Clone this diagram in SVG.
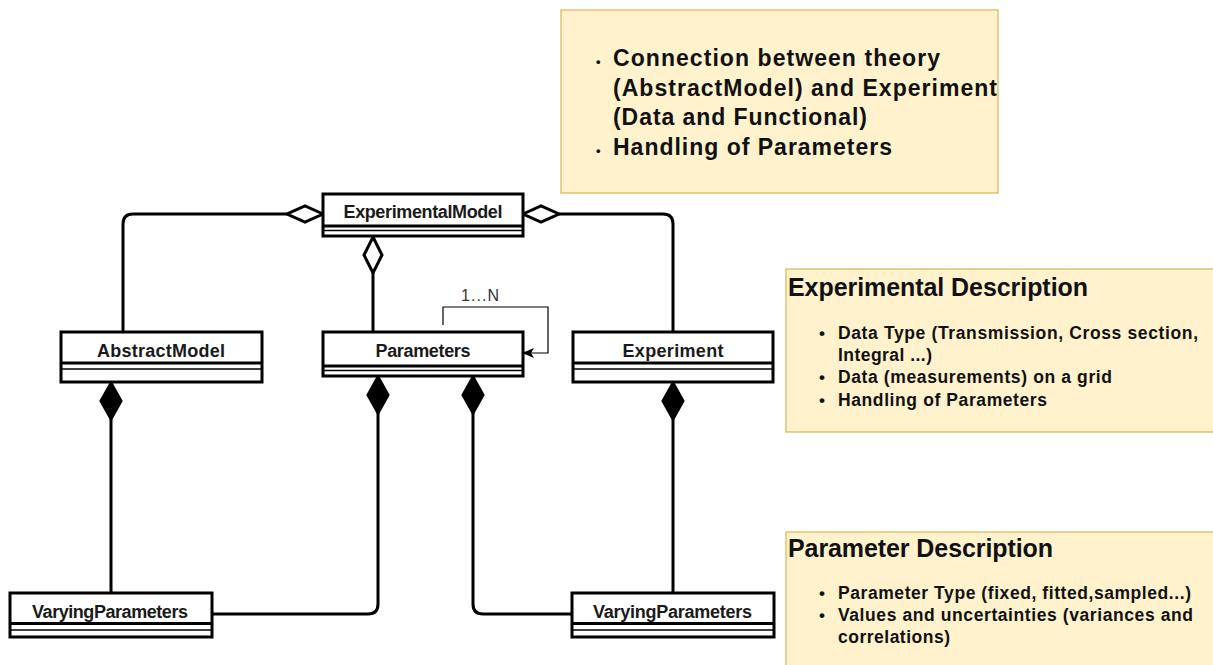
<svg xmlns="http://www.w3.org/2000/svg" width="1213" height="665" viewBox="0 0 1213 665">
<defs>
<style>
.cls{fill:#fff;stroke:#000;stroke-width:3}
.sep{stroke:#000;stroke-width:3}
.sep2{stroke:#000;stroke-width:1.5}
.lbl{font-family:"Liberation Sans",Arial,sans-serif;font-weight:bold;font-size:18px;fill:#1a1a1a;text-anchor:middle}
.note{fill:#fff2cc;stroke:#d6b656;stroke-width:1.2}
.nt{font-family:"Liberation Sans",Arial,sans-serif;font-weight:bold;fill:#111}
.edge{fill:none;stroke:#000;stroke-width:3;stroke-linejoin:round}
.odia{fill:#fff;stroke:#000;stroke-width:3}
.fdia{fill:#000;stroke:#000;stroke-width:3}
</style>
<marker id="arr" viewBox="0 0 12 10" refX="11" refY="5" markerWidth="12" markerHeight="10" markerUnits="userSpaceOnUse" orient="auto">
<path d="M0,0 L12,5 L0,10 L3,5 Z" fill="#000"/>
</marker>
</defs>

<g id="note-top">
<rect class="note" x="561" y="10" width="437" height="183"/>
<text class="nt" x="596" y="66" font-size="13">•</text>
<text class="nt" x="613" y="66" font-size="23" textLength="327" lengthAdjust="spacing">Connection between theory</text>
<text class="nt" x="613" y="95.5" font-size="23" textLength="384" lengthAdjust="spacing">(AbstractModel) and Experiment</text>
<text class="nt" x="613" y="125" font-size="23" textLength="254" lengthAdjust="spacing">(Data and Functional)</text>
<text class="nt" x="596" y="155" font-size="13">•</text>
<text class="nt" x="613" y="155" font-size="23" textLength="279" lengthAdjust="spacing">Handling of Parameters</text>
</g>

<g id="note-experimental">
<rect class="note" x="786" y="269" width="440" height="163"/>
<text class="nt" x="788" y="296" font-size="25" textLength="300" lengthAdjust="spacing">Experimental Description</text>
<text class="nt" x="819" y="339" font-size="17">•</text>
<text class="nt" x="838" y="339" font-size="17.5" textLength="360" lengthAdjust="spacing">Data Type (Transmission, Cross section,</text>
<text class="nt" x="838" y="361" font-size="17.5" textLength="94" lengthAdjust="spacing">Integral ...)</text>
<text class="nt" x="819" y="383" font-size="17">•</text>
<text class="nt" x="838" y="383" font-size="17.5" textLength="274" lengthAdjust="spacing">Data (measurements) on a grid</text>
<text class="nt" x="819" y="406" font-size="17">•</text>
<text class="nt" x="838" y="406" font-size="17.5" textLength="209" lengthAdjust="spacing">Handling of Parameters</text>
</g>

<g id="note-parameter">
<rect class="note" x="786" y="532" width="440" height="150"/>
<text class="nt" x="788" y="557" font-size="25" textLength="265" lengthAdjust="spacing">Parameter Description</text>
<text class="nt" x="819" y="599" font-size="17">•</text>
<text class="nt" x="838" y="599" font-size="17.5" textLength="353" lengthAdjust="spacing">Parameter Type (fixed, fitted,sampled...)</text>
<text class="nt" x="819" y="621" font-size="17">•</text>
<text class="nt" x="838" y="621" font-size="17.5" textLength="355" lengthAdjust="spacing">Values and uncertainties (variances and</text>
<text class="nt" x="838" y="643" font-size="17.5" textLength="112" lengthAdjust="spacing">correlations)</text>
</g>

<g id="connectors">
<path class="edge" d="M123,332 V224 Q123,214 133,214 H287"/>
<path class="odia" d="M323,214 L305,206 L287,214 L305,222 Z"/>
<path class="edge" d="M673,332 V224 Q673,214 663,214 H559"/>
<path class="odia" d="M523,214 L541,206 L559,214 L541,222 Z"/>
<path class="edge" d="M373,332 V273"/>
<path class="odia" d="M373,237 L382,255 L373,273 L364,255 Z"/>
<path d="M443,325 V307 H548 V353 H523" fill="none" stroke="#000" stroke-width="1.2" marker-end="url(#arr)"/>
<text x="480" y="301" font-family="'Liberation Sans',Arial,sans-serif" font-size="16" fill="#333" text-anchor="middle" textLength="38" lengthAdjust="spacing">1...N</text>
<path class="fdia" d="M111,383 L121,401 L111,419 L101,401 Z"/>
<path class="edge" d="M111,419 V593"/>
<path class="fdia" d="M378,377 L388,395 L378,413 L368,395 Z"/>
<path class="edge" d="M378,413 V604 Q378,614 368,614 H212"/>
<path class="fdia" d="M473,377 L483,395 L473,413 L463,395 Z"/>
<path class="edge" d="M473,413 V604 Q473,614 483,614 H572"/>
<path class="fdia" d="M673,383 L683,401 L673,419 L663,401 Z"/>
<path class="edge" d="M673,419 V593"/>
</g>

<g id="ExperimentalModel">
<rect class="cls" x="323" y="194" width="200" height="42"/>
<line class="sep" x1="323" y1="226" x2="523" y2="226"/>
<line class="sep2" x1="323" y1="230.5" x2="523" y2="230.5"/>
<text class="lbl" x="423" y="218" textLength="159" lengthAdjust="spacing">ExperimentalModel</text>
</g>

<g id="AbstractModel">
<rect class="cls" x="61" y="332" width="201" height="50"/>
<line class="sep" x1="61" y1="363" x2="262" y2="363"/>
<line class="sep2" x1="61" y1="369" x2="262" y2="369"/>
<text class="lbl" x="161" y="357" textLength="128" lengthAdjust="spacing">AbstractModel</text>
</g>

<g id="Parameters">
<rect class="cls" x="323" y="332" width="200" height="44"/>
<line class="sep" x1="323" y1="366" x2="523" y2="366"/>
<line class="sep2" x1="323" y1="370.5" x2="523" y2="370.5"/>
<text class="lbl" x="423" y="357" textLength="95" lengthAdjust="spacing">Parameters</text>
</g>

<g id="Experiment">
<rect class="cls" x="573" y="332" width="200" height="50"/>
<line class="sep" x1="573" y1="363" x2="773" y2="363"/>
<line class="sep2" x1="573" y1="369" x2="773" y2="369"/>
<text class="lbl" x="673" y="357" textLength="101" lengthAdjust="spacing">Experiment</text>
</g>

<g id="VaryingParameters-left">
<rect class="cls" x="10" y="593" width="202" height="44"/>
<line class="sep" x1="10" y1="623.5" x2="212" y2="623.5"/>
<line class="sep2" x1="10" y1="630" x2="212" y2="630"/>
<text class="lbl" x="110" y="618" textLength="156" lengthAdjust="spacing">VaryingParameters</text>
</g>

<g id="VaryingParameters-right">
<rect class="cls" x="572" y="593" width="202" height="44"/>
<line class="sep" x1="572" y1="623.5" x2="774" y2="623.5"/>
<line class="sep2" x1="572" y1="630" x2="774" y2="630"/>
<text class="lbl" x="672.5" y="618" textLength="159" lengthAdjust="spacing">VaryingParameters</text>
</g>
</svg>
